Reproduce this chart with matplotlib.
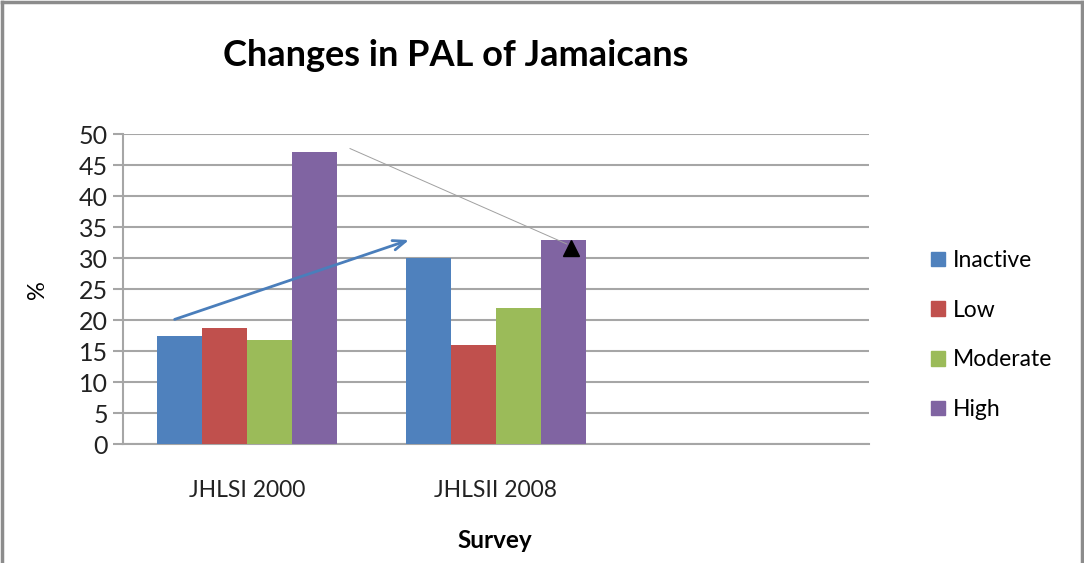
import matplotlib
matplotlib.use("Agg")
import matplotlib.pyplot as plt
from matplotlib.lines import Line2D
from matplotlib.patches import Patch
import numpy as np

plt.rcParams["font.family"] = ["Lato", "DejaVu Sans"]

# 데이터
surveys = ["JHLSI 2000", "JHLSII 2008", ""]
levels = ["Inactive", "Low", "Moderate", "High"]
inactive = [17.4, 30.0]
low = [18.7, 16.0]
moderate = [16.8, 22.0]
high = [47.2, 33.0]
series = [inactive, low, moderate, high]
colors = ["#4F81BD", "#C0504D", "#9BBB59", "#8064A2"]

# 주석 화살표 (데이터 좌표)
blue_arrow_start = (-0.303, 20.0)
blue_arrow_end = (0.661, 33.1)
thin_line_start = (0.413, 47.7)
thin_line_end = (1.285, 32.3)
triangle_pos = (1.300, 31.6)

fig = plt.figure(figsize=(10.84, 5.63), dpi=100)
ax = fig.add_axes([123 / 1084, 118.7 / 563, 746 / 1084, 310 / 563])

width = 0.181
x = np.arange(2)
for i, (vals, c) in enumerate(zip(series, colors)):
    ax.bar(x + (i - 1.5) * width, vals, width, color=c, label=levels[i], zorder=3)

ax.set_xlim(-0.5, 2.5)
ax.set_ylim(0, 50)
ax.set_yticks(range(0, 51, 5))
ax.set_xticks(range(3))
ax.set_xticklabels(surveys)

grid_col = "#a6a6a6"
ax.yaxis.grid(True, color=grid_col, lw=1.5, zorder=0)
for s in ["top", "right"]:
    ax.spines[s].set_visible(False)
for s in ["left", "bottom"]:
    ax.spines[s].set_color(grid_col)
    ax.spines[s].set_linewidth(1.5)
ax.tick_params(axis="y", length=7, width=1.5, color=grid_col, labelsize=18,
               labelcolor="#222222", pad=4)
ax.tick_params(axis="x", length=0, labelsize=16.5, labelcolor="#222222", pad=26)

ax.set_xlabel("Survey", fontsize=17.5, fontweight="bold", va="center")
ax.xaxis.set_label_coords(0.499, -0.309)
ax.set_ylabel("%", fontsize=17, va="center")
ax.yaxis.set_label_coords(-0.115, 0.498)
fig.text(0.42, 0.901, "Changes in PAL of Jamaicans", fontsize=26, fontweight="bold",
         ha="center", va="center")

# 화살표
ax.annotate("", xy=blue_arrow_end, xytext=blue_arrow_start,
            arrowprops=dict(arrowstyle="->,head_length=0.9,head_width=0.35",
                            color="#4A7EBB", lw=2), zorder=5)
ax.plot([thin_line_start[0], thin_line_end[0]], [thin_line_start[1], thin_line_end[1]],
        color="#a0a0a0", lw=0.7, zorder=5)
ax.plot([triangle_pos[0]], [triangle_pos[1]], marker="^", color="black",
        markersize=12, zorder=6, clip_on=False)

# 범례
handles = [Patch(facecolor=c, edgecolor=c) for c in colors]
fig.legend(handles, levels, loc="upper left", bbox_to_anchor=(922 / 1084, 1 - 241 / 563),
           frameon=False, fontsize=16.5, handlelength=0.6, handleheight=0.6,
           handletextpad=0.35, labelspacing=1.25, borderaxespad=0)

# 테두리
bc = "#8c8c8c"
fig.add_artist(Line2D([2 / 1084, 2 / 1084], [0, 1 - 2 / 563], color=bc, lw=2.5))
fig.add_artist(Line2D([2 / 1084, 1082 / 1084], [1 - 2 / 563, 1 - 2 / 563], color=bc, lw=2.5))
fig.add_artist(Line2D([1082 / 1084, 1082 / 1084], [0, 1 - 2 / 563], color=bc, lw=2.5))

fig.savefig("out.png", dpi=100)
